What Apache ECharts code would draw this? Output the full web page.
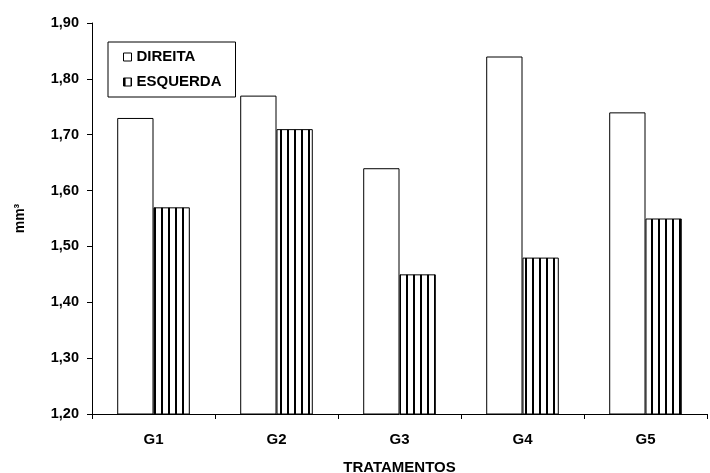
<!DOCTYPE html>
<html>
<head>
<meta charset="utf-8">
<script src="https://cdn.jsdelivr.net/npm/echarts@6/dist/echarts.min.js"></script>
<style>
  html, body { margin: 0; padding: 0; background: #fff; }
  #chart { width: 710px; height: 473px; }
</style>
</head>
<body>
<div id="chart"></div>
<script>
  var categories = ['G1', 'G2', 'G3', 'G4', 'G5'];
  var direita = [1.73, 1.77, 1.64, 1.84, 1.74];
  var esquerda = [1.57, 1.71, 1.45, 1.48, 1.55];

  // listras verticais para a serie ESQUERDA
  var stripe = document.createElement('canvas');
  stripe.width = 7;
  stripe.height = 10;
  var ctx = stripe.getContext('2d');
  ctx.fillStyle = '#fff';
  ctx.fillRect(0, 0, 7, 10);
  ctx.fillStyle = '#000';
  ctx.fillRect(0, 0, 2, 10);

  var font = 'Liberation Sans, Arial, sans-serif';
  var myChart = echarts.init(document.getElementById('chart'));
  var option = {
    animation: false,
    backgroundColor: '#fff',
    textStyle: { fontFamily: font },
    grid: { left: 92, right: 3, top: 23, bottom: 59, containLabel: false, outerBoundsMode: 'none' },
    legend: {
      orient: 'vertical',
      left: 108,
      top: 42,
      itemWidth: 8,
      itemHeight: 8,
      itemGap: 9,
      padding: [7, 14, 7, 15],
      borderColor: '#000',
      borderWidth: 1,
      borderRadius: 0,
      textStyle: { fontFamily: font, fontWeight: 'bold', fontSize: 15, lineHeight: 16, color: '#000' },
      data: [
        { name: 'DIREITA', icon: 'rect', itemStyle: { borderWidth: 1 } },
        { name: 'ESQUERDA', icon: 'rect', itemStyle: { borderWidth: 1 } }
      ]
    },
    xAxis: {
      type: 'category',
      data: categories,
      name: 'TRATAMENTOS',
      nameLocation: 'middle',
      nameGap: 46,
      nameTextStyle: { fontFamily: font, fontWeight: 'bold', fontSize: 15, color: '#000' },
      axisLine: { lineStyle: { color: '#000', width: 1 } },
      axisTick: { show: true, length: 5, inside: false, lineStyle: { color: '#000' } },
      axisLabel: { fontFamily: font, fontWeight: 'bold', fontSize: 15, color: '#000', margin: 18 }
    },
    yAxis: {
      type: 'value',
      min: 1.2,
      max: 1.9,
      interval: 0.1,
      name: 'mm³',
      nameLocation: 'middle',
      nameGap: 65,
      nameRotate: 90,
      nameTextStyle: { fontFamily: font, fontWeight: 'bold', fontSize: 14, color: '#000' },
      axisLine: { show: true, lineStyle: { color: '#000', width: 1 } },
      axisTick: { show: true, length: 5, lineStyle: { color: '#000' } },
      splitLine: { show: false },
      axisLabel: {
        fontFamily: font, fontWeight: 'bold', fontSize: 14.5, color: '#000', margin: 13,
        formatter: function (v) { return v.toFixed(2).replace('.', ','); }
      }
    },
    series: [
      {
        name: 'DIREITA',
        type: 'bar',
        data: direita,
        barGap: '0%',
        barCategoryGap: '41%',
        itemStyle: { color: '#fff', borderColor: '#000', borderWidth: 1 }
      },
      {
        name: 'ESQUERDA',
        type: 'bar',
        data: esquerda,
        itemStyle: { color: { image: stripe, repeat: 'repeat' }, borderColor: '#000', borderWidth: 1 }
      }
    ]
  };
  myChart.setOption(option);
</script>
</body>
</html>
